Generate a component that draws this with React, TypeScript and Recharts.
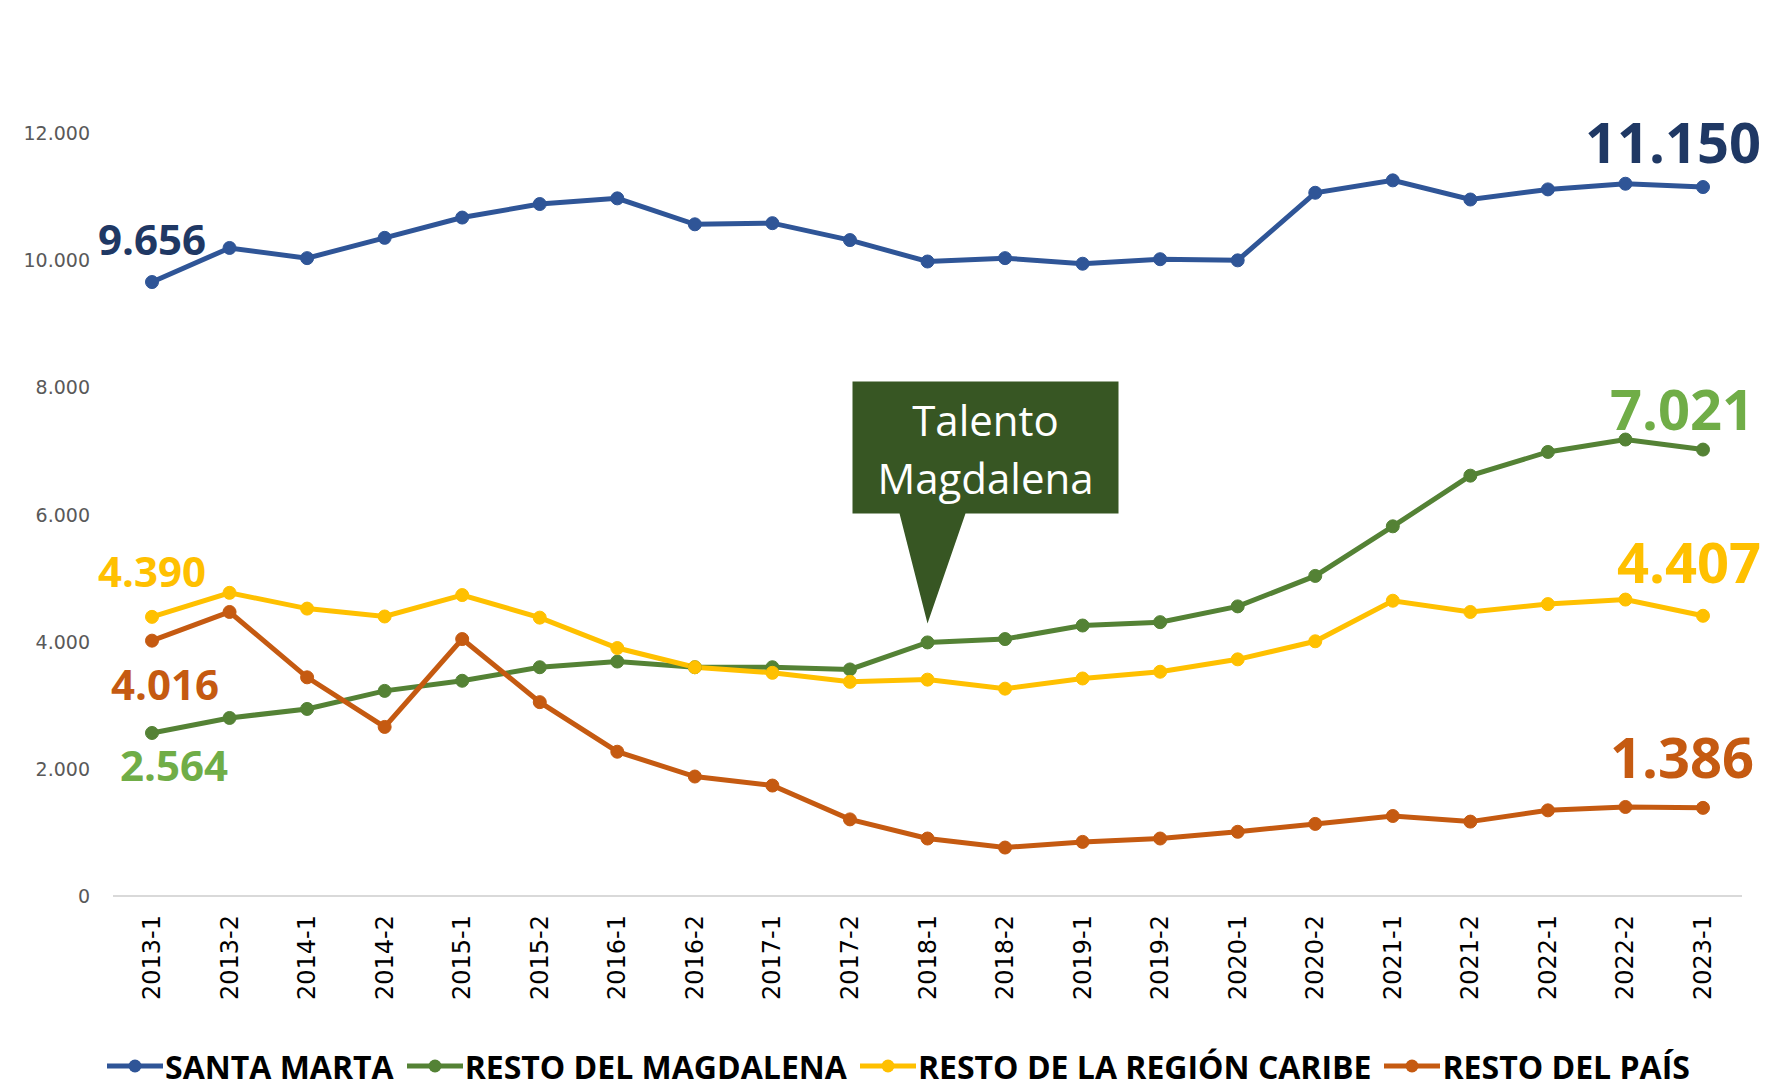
import React from "react";
import {
  LineChart,
  Line,
  XAxis,
  YAxis,
  Legend,
  LabelList,
  ReferenceDot,
} from "recharts";

const periods = [
  "2013-1", "2013-2", "2014-1", "2014-2", "2015-1", "2015-2", "2016-1",
  "2016-2", "2017-1", "2017-2", "2018-1", "2018-2", "2019-1", "2019-2",
  "2020-1", "2020-2", "2021-1", "2021-2", "2022-1", "2022-2", "2023-1",
];

const santaMarta = [
  9656, 10192, 10032, 10351, 10670, 10883, 10972, 10564, 10582, 10316, 9979,
  10032, 9944, 10015, 9997, 11060, 11255, 10954, 11113, 11202, 11150,
];
const restoMagdalena = [
  2564, 2800, 2942, 3226, 3385, 3598, 3687, 3598, 3598, 3563, 3988, 4041,
  4254, 4307, 4555, 5034, 5814, 6611, 6984, 7179, 7021,
];
const restoCaribe = [
  4390, 4768, 4520, 4396, 4733, 4378, 3900, 3598, 3510, 3368, 3403, 3261,
  3421, 3527, 3722, 4006, 4644, 4467, 4591, 4662, 4407,
];
const restoPais = [
  4016, 4467, 3439, 2659, 4041, 3049, 2269, 1879, 1737, 1205, 904, 762, 851,
  904, 1010, 1134, 1258, 1170, 1347, 1400, 1386,
];

const yTicks = [0, 2000, 4000, 6000, 8000, 10000, 12000];
const calloutPeriod = "2018-1";
const calloutLines = ["Talento", "Magdalena"];

const seriesNames = [
  "SANTA MARTA",
  "RESTO DEL MAGDALENA",
  "RESTO DE LA REGIÓN CARIBE",
  "RESTO DEL PAÍS",
];

const data = periods.map((p, i) => ({
  period: p,
  santaMarta: santaMarta[i],
  restoMagdalena: restoMagdalena[i],
  restoCaribe: restoCaribe[i],
  restoPais: restoPais[i],
}));

const fmt = (v: number) =>
  String(Math.round(v)).replace(/\B(?=(\d{3})+(?!\d))/g, ".");

type LabelCfg = {
  color: string;
  first: { dx: number; dy: number; size: number };
  last: { dx: number; dy: number; size: number };
};

const series = [
  {
    key: "santaMarta",
    name: seriesNames[0],
    color: "#2F5597",
    label: {
      color: "#1F3864",
      first: { dx: 0, dy: -44, size: 42 },
      last: { dx: -30, dy: -46, size: 56 },
    },
  },
  {
    key: "restoMagdalena",
    name: seriesNames[1],
    color: "#548235",
    label: {
      color: "#70AD47",
      first: { dx: 22, dy: 32, size: 42 },
      last: { dx: -21, dy: -42, size: 56 },
    },
  },
  {
    key: "restoCaribe",
    name: seriesNames[2],
    color: "#FFC000",
    label: {
      color: "#FFC000",
      first: { dx: 0, dy: -46, size: 42 },
      last: { dx: -14, dy: -55, size: 56 },
    },
  },
  {
    key: "restoPais",
    name: seriesNames[3],
    color: "#C55A11",
    label: {
      color: "#C55A11",
      first: { dx: 13, dy: 43, size: 42 },
      last: { dx: -21, dy: -52, size: 56 },
    },
  },
];

const makeLabel = (cfg: LabelCfg) => (props: any) => {
  const { x, y, index, value } = props;
  if (index !== 0 && index !== periods.length - 1) return null;
  const c = index === 0 ? cfg.first : cfg.last;
  return (
    <text
      x={x + c.dx}
      y={y + c.dy}
      textAnchor="middle"
      dominantBaseline="central"
      fill={cfg.color}
      fontFamily="'Open Sans', sans-serif"
      fontWeight={700}
      fontSize={c.size}
    >
      {fmt(value)}
    </text>
  );
};

const XTick = (props: any) => {
  const { x, y, payload } = props;
  return (
    <text
      x={x}
      y={y}
      transform={`rotate(-90, ${x}, ${y})`}
      textAnchor="end"
      dominantBaseline="central"
      fill="#000000"
      fontFamily="'DejaVu Sans', sans-serif"
      fontSize={24}
    >
      {payload.value}
    </text>
  );
};

const YTick = (props: any) => {
  const { x, y, payload } = props;
  return (
    <text
      x={x}
      y={y}
      textAnchor="end"
      dominantBaseline="central"
      fill="#595959"
      fontFamily="'DejaVu Sans', sans-serif"
      fontSize={19}
    >
      {fmt(payload.value)}
    </text>
  );
};

const Callout = (props: any) => {
  const { cx, cy } = props;
  if (cx == null || cy == null) return null;
  const left = cx - 75;
  const right = cx + 191;
  const top = cy - 261;
  const bottom = cy - 129;
  const midX = (left + right) / 2;
  return (
    <g>
      <path
        d={`M${left},${top} L${right},${top} L${right},${bottom} L${cx + 38},${bottom} L${cx},${cy - 19} L${cx - 28},${bottom} L${left},${bottom} Z`}
        fill="#375623"
      />
      <text
        x={midX}
        y={top + 38}
        textAnchor="middle"
        dominantBaseline="central"
        fill="#FFFFFF"
        fontFamily="'Open Sans', sans-serif"
        fontSize={42}
      >
        {calloutLines[0]}
      </text>
      <text
        x={midX}
        y={top + 96}
        textAnchor="middle"
        dominantBaseline="central"
        fill="#FFFFFF"
        fontFamily="'Open Sans', sans-serif"
        fontSize={42}
      >
        {calloutLines[1]}
      </text>
    </g>
  );
};

const LegendContent = () => (
  <div
    style={{
      height: 44,
      display: "flex",
      alignItems: "center",
      paddingLeft: 107,
      fontFamily: "'Open Sans', sans-serif",
      fontWeight: 700,
      fontSize: 32,
      color: "#000000",
      whiteSpace: "nowrap",
    }}
  >
    {series.map((s) => (
      <div
        key={s.key}
        style={{ display: "flex", alignItems: "center", marginRight: 13 }}
      >
        <svg width={56} height={20} style={{ marginRight: 2 }}>
          <line x1={0} y1={10} x2={56} y2={10} stroke={s.color} strokeWidth={5} />
          <circle cx={28} cy={10} r={6.5} fill={s.color} />
        </svg>
        <span>{s.name}</span>
      </div>
    ))}
  </div>
);

export default function App() {
  return (
    <div
      style={{
        position: "absolute",
        left: 0,
        top: 0,
        width: 1767,
        height: 1088,
        background: "#FFFFFF",
      }}
    >
      <LineChart
        width={1767}
        height={1088}
        data={data}
        margin={{ top: 133, right: 25, left: 0, bottom: 48 }}
      >
        <XAxis
          dataKey="period"
          interval={0}
          height={100}
          tickLine={false}
          tickSize={0}
          tickMargin={19}
          axisLine={{ stroke: "#D9D9D9", strokeWidth: 2 }}
          padding={{ left: 39, right: 39 }}
          tick={<XTick />}
        />
        <YAxis
          width={113}
          domain={[0, 12000]}
          ticks={yTicks}
          tickLine={false}
          axisLine={false}
          tickSize={0}
          tickMargin={23}
          tick={<YTick />}
        />
        {series.map((s) => (
          <Line
            key={s.key}
            type="linear"
            dataKey={s.key}
            name={s.name}
            stroke={s.color}
            strokeWidth={5}
            dot={{ r: 6.5, fill: s.color, stroke: s.color, strokeWidth: 1 }}
            activeDot={false}
            isAnimationActive={false}
          >
            <LabelList dataKey={s.key} content={makeLabel(s.label)} />
          </Line>
        ))}
        <ReferenceDot
          x={calloutPeriod}
          y={restoMagdalena[periods.indexOf(calloutPeriod)]}
          shape={<Callout />}
          ifOverflow="visible"
        />
        <Legend
          verticalAlign="bottom"
          content={<LegendContent />}
          wrapperStyle={{ bottom: 0, left: 0, width: 1767 }}
        />
      </LineChart>
    </div>
  );
}
